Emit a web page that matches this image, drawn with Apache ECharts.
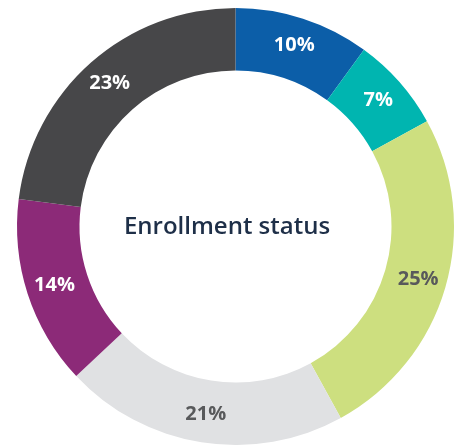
<!DOCTYPE html>
<html>
<head>
<meta charset="utf-8">
<script src="https://cdn.jsdelivr.net/npm/echarts@6/dist/echarts.min.js"></script>
<style>
  html, body { margin: 0; padding: 0; background: #fff; }
  #chart { width: 454px; height: 445px; }
</style>
</head>
<body>
<div id="chart"></div>
<script>
// slices clockwise from 12 o'clock
const categories = ['A', 'B', 'C', 'D', 'E', 'F'];
const values = [10, 7, 25, 21, 14, 23];
const colors = ['#0c5ea8', '#00b5b0', '#cddf7f', '#e0e1e3', '#8c2a78', '#474749'];
const labelColors = ['#ffffff', '#ffffff', '#58595b', '#58595b', '#ffffff', '#ffffff'];
const centerTitle = 'Enrollment status';

const chart = echarts.init(document.getElementById('chart'));

const data = categories.map((name, i) => ({
  name: name,
  value: values[i],
  itemStyle: { color: colors[i] },
  label: { color: labelColors[i] }
}));

chart.setOption({
  animation: false,
  graphic: [{
    type: 'text',
    left: 'center',
    top: 215,
    style: {
      text: centerTitle,
      font: '600 24px "Open Sans", sans-serif',
      fill: '#1e2f48'
    }
  }],
  series: [{
    type: 'pie',
    center: [235.5, 226.5],
    radius: [156, 218.5],
    startAngle: 90,
    clockwise: true,
    label: {
      show: true,
      position: 'inside',
      formatter: '{c}%',
      fontFamily: '"Open Sans", sans-serif',
      fontWeight: 'bold',
      fontSize: 20
    },
    labelLine: { show: false },
    emphasis: { disabled: true },
    data: data
  }]
});
</script>
</body>
</html>
